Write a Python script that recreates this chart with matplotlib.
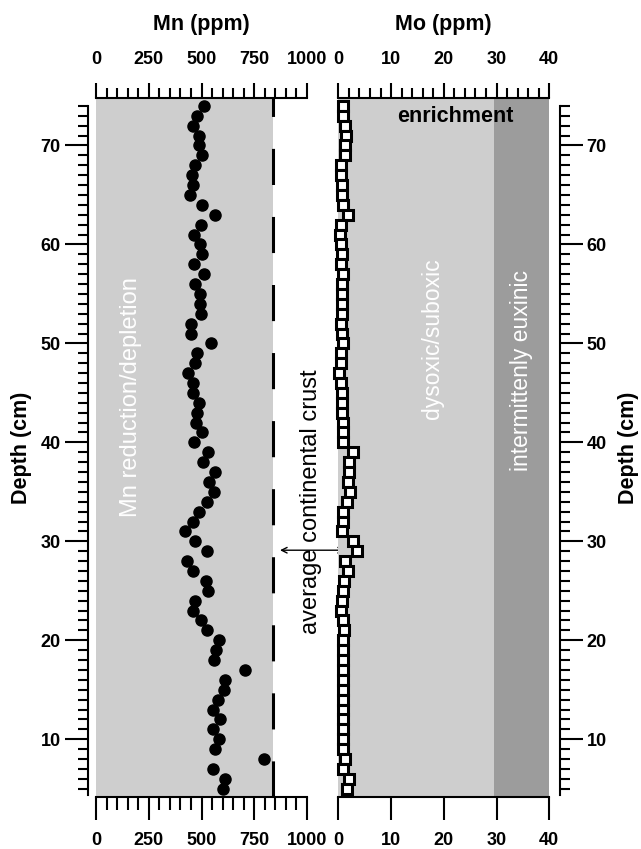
import numpy as np
import matplotlib
matplotlib.use("Agg")
import matplotlib.pyplot as plt
from matplotlib.ticker import MultipleLocator

plt.rcParams['font.family'] = ['Liberation Sans', 'DejaVu Sans']
plt.rcParams['lines.scale_dashes'] = False

# ---------------- data ----------------
depth = list(range(74, 4, -1))  # cm, 74 ... 5
mn = [512, 477, 461, 487, 487, 502, 468, 455, 461, 445,
      504, 565, 498, 466, 493, 501, 466, 512, 469, 493,
      493, 499, 449, 452, 543, 477, 468, 436, 461, 461,
      490, 480, 474, 504, 464, 531, 509, 565, 537, 559,
      525, 490, 458, 420, 471, 525, 430, 461, 521, 531,
      468, 461, 499, 525, 581, 569, 559, 708, 610, 607,
      578, 553, 588, 553, 584, 562, 796, 556, 613, 600]
mo = [0.9, 0.9, 1.3, 1.4, 1.2, 1.3, 0.5, 0.6, 0.7, 0.7,
      0.8, 1.8, 0.5, 0.4, 0.6, 0.7, 0.6, 0.9, 0.7, 0.7,
      0.7, 0.7, 0.6, 0.7, 0.8, 0.5, 0.5, 0.2, 0.5, 0.7,
      0.7, 0.7, 0.8, 0.8, 0.8, 2.8, 2.0, 2.0, 1.8, 2.2,
      1.6, 0.8, 0.8, 0.7, 2.8, 3.6, 1.3, 1.9, 1.1, 0.8,
      0.7, 0.6, 0.9, 1.1, 0.9, 0.9, 0.9, 0.8, 0.8, 0.8,
      0.8, 0.8, 0.8, 0.9, 0.9, 0.9, 1.2, 0.8, 2.0, 1.7]
mn_crust = 840          # average continental crust Mn (ppm)
mo_limit = 29.5         # boundary dysoxic/suboxic vs intermittently euxinic
mn_ticks = [0, 250, 500, 750, 1000]
mo_ticks = [0, 10, 20, 30, 40]
depth_ticks = [10, 20, 30, 40, 50, 60, 70]

# ---------------- figure ----------------
W, H = 641, 849
fig = plt.figure(figsize=(W / 100, H / 100), dpi=100)

def px_rect(x0, x1, y0, y1):
    return [x0 / W, 1 - y1 / H, (x1 - x0) / W, (y1 - y0) / H]

ylim = (4.16, 74.8)
light = '#cecece'
dark = '#9c9c9c'
lw_sp = 1.5
fs_tick = 13
fs_lab = 15.5

ax1 = fig.add_axes(px_rect(96, 307, 98, 797))
ax2 = fig.add_axes(px_rect(338.3, 549.3, 98, 797))

for ax in (ax1, ax2):
    ax.set_ylim(*ylim)
    ax.set_facecolor('none')
    for s in ax.spines.values():
        s.set_linewidth(lw_sp)

# ---- Mn panel ----
ax1.set_xlim(0, 1000)
ax1.axvspan(0, mn_crust, color=light, lw=0, zorder=0)
ax1.plot([mn_crust, mn_crust], ylim, color='black', lw=2.2,
         dashes=(26, 23), zorder=2, solid_capstyle='butt', dash_capstyle='butt')
ax1.plot(mn, depth, 'o', color='black', ms=8, zorder=3, clip_on=False)

ax1.spines['right'].set_visible(False)
ax1.spines['top'].set_visible(False)
ax1.spines['left'].set_position(('outward', 6))
ax1.spines['left'].set_bounds(4.4, 74)
ax1.set_xticks(mn_ticks)
ax1.xaxis.set_minor_locator(MultipleLocator(50))
ax1.tick_params(axis='x', which='major', length=16.5, width=lw_sp,
                labelsize=fs_tick, pad=8.5)
ax1.tick_params(axis='x', which='minor', length=9.4, width=lw_sp)
ax1.set_yticks(depth_ticks)
ax1.yaxis.set_minor_locator(MultipleLocator(1))
ax1.tick_params(axis='y', which='major', length=16.5, width=lw_sp,
                labelsize=fs_tick, pad=3)
ax1.tick_params(axis='y', which='minor', length=7.2, width=lw_sp)
for lab in ax1.get_xticklabels() + ax1.get_yticklabels():
    lab.set_fontweight('bold')

top1 = ax1.secondary_xaxis('top')
top1.spines['top'].set_linewidth(lw_sp)
top1.set_xticks(mn_ticks)
top1.xaxis.set_minor_locator(MultipleLocator(50))
top1.tick_params(which='major', length=10.8, width=lw_sp, labelsize=fs_tick, pad=11)
top1.tick_params(which='minor', length=7.2, width=lw_sp)
for lab in top1.get_xticklabels():
    lab.set_fontweight('bold')
top1.set_xlabel('Mn (ppm)', fontsize=fs_lab, fontweight='bold', labelpad=15)

ax1.set_ylabel('Depth (cm)', fontsize=fs_lab, fontweight='bold', labelpad=6)

ax1.text(166, 44.6, 'Mn reduction/depletion', rotation=90, color='white',
         fontsize=17, ha='center', va='center')
ax1.text(1019, 34, 'average continental crust', rotation=90, color='black',
         fontsize=17, ha='center', va='center', clip_on=False)
ax1.annotate('', xy=(872, 29.1), xytext=(1180, 29.1),
             arrowprops=dict(arrowstyle='<->', color='black', lw=1,
                             shrinkA=0, shrinkB=0, mutation_scale=10),
             annotation_clip=False)

# ---- Mo panel ----
ax2.set_xlim(0, 40)
ax2.axvspan(0, mo_limit, color=light, lw=0, zorder=0)
ax2.axvspan(mo_limit, 40, color=dark, lw=0, zorder=0)
ax2.plot(mo, depth, 's', mfc='white', mec='black', mew=2.2, ms=7,
         zorder=3, clip_on=False)

ax2.spines['left'].set_visible(False)
ax2.spines['top'].set_visible(False)
ax2.spines['right'].set_position(('outward', 7.4))
ax2.spines['right'].set_bounds(4.4, 74)
ax2.set_xticks(mo_ticks)
ax2.tick_params(axis='x', which='major', length=16.5, width=lw_sp,
                labelsize=fs_tick, pad=8.5)
ax2.yaxis.set_ticks_position('right')
ax2.yaxis.set_label_position('right')
ax2.set_yticks(depth_ticks)
ax2.yaxis.set_minor_locator(MultipleLocator(1))
ax2.tick_params(axis='y', which='major', length=16.5, width=lw_sp,
                labelsize=fs_tick, pad=3, left=False, right=True)
ax2.tick_params(axis='y', which='minor', length=7.2, width=lw_sp,
                left=False, right=True)
for lab in ax2.get_xticklabels() + ax2.get_yticklabels():
    lab.set_fontweight('bold')
ax2.set_ylabel('Depth (cm)', fontsize=fs_lab, fontweight='bold', labelpad=8)

top2 = ax2.secondary_xaxis('top')
top2.spines['top'].set_linewidth(lw_sp)
top2.set_xticks(mo_ticks)
top2.xaxis.set_minor_locator(MultipleLocator(2))
top2.tick_params(which='major', length=10.8, width=lw_sp, labelsize=fs_tick, pad=11)
top2.tick_params(which='minor', length=7.2, width=lw_sp)
for lab in top2.get_xticklabels():
    lab.set_fontweight('bold')
top2.set_xlabel('Mo (ppm)', fontsize=fs_lab, fontweight='bold', labelpad=15)

ax2.text(22.1, 72.9, 'enrichment', fontsize=15.5, fontweight='bold',
         ha='center', va='center')
ax2.text(17.8, 50.5, 'dysoxic/suboxic', rotation=90, color='white',
         fontsize=16.5, ha='center', va='center')
ax2.text(34.8, 47.3, 'intermittenly euxinic', rotation=90, color='white',
         fontsize=16.5, ha='center', va='center')

fig.savefig('out.png', dpi=100)
